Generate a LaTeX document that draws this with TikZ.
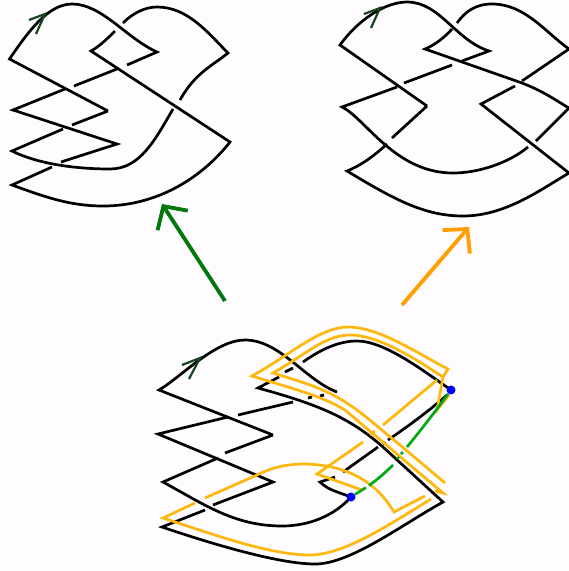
\documentclass[tikz,border=0pt]{standalone}
\usepackage{xcolor}
\usetikzlibrary{arrows.meta}
\definecolor{paper}{RGB}{254,252,254}
\definecolor{ribbon}{RGB}{255,184,10}
\definecolor{orient}{RGB}{20,70,30}
\definecolor{band}{RGB}{0,170,20}
\definecolor{movegreen}{RGB}{0,120,10}
\definecolor{moveorange}{RGB}{255,160,0}
\tikzset{
    knot/.style={draw=black, line width=2.7pt, line join=miter},
    pushoff/.style={draw=ribbon, line width=2.7pt, line join=miter},
    orientmark/.style={draw=orient, line width=2.2pt},
    arc/.style={draw=band, line width=2.7pt},
    endpt/.style={fill=blue, circle, inner sep=0pt, minimum size=9pt},
    move/.style={line width=3.8pt, -{Straight Barb[length=17pt, width=36pt]}},
}

\begin{document}
\begin{tikzpicture}[x=1pt, y=-1pt]
    \fill[paper] (0,0) rectangle (569,571);
    \useasboundingbox (0,0) rectangle (569,571);

    % top left knot
    \draw[knot] (108,111) -- (9.5,59) .. controls (28,32) and (48,4) .. (72,4) .. controls (102,4) and (126,38) .. (157,52) -- (127,65);
    \draw[knot] (117,69) -- (74,86);
    \draw[knot] (65,89) -- (13,110) -- (117,144) -- (61,162);
    \draw[knot] (52,167) -- (12,185) .. controls (45,197) and (70,206) .. (103,206) .. controls (155,206) and (200,180) .. (230,142) -- (91,51) .. controls (100,46) and (108,38) .. (115,31);
    \draw[knot] (123,23) .. controls (133,13) and (145,7) .. (157,7) .. controls (188,7) and (208,33) .. (228,53) .. controls (212,66) and (195,73) .. (180,100);
    \draw[knot] (173,109) .. controls (155,140) and (140,169) .. (110,169) .. controls (80,169) and (40,165) .. (12,151) -- (63,129);
    \draw[knot] (72,125) -- (108,111);
    \draw[orientmark] (29,20) -- (45,14) -- (36,34);

    % top right knot
    \draw[knot] (427,106) -- (340,45) .. controls (358,20) and (385,2) .. (407,2) .. controls (440,2) and (455,40) .. (489,51) -- (462,61);
    \draw[knot] (452,65) -- (404,83);
    \draw[knot] (397,87) -- (342,107) .. controls (365,118) and (395,173) .. (453,173) .. controls (480,173) and (510,162) .. (528,147);
    \draw[knot] (536,141) -- (569,108) .. controls (555,100) and (545,92) .. (522,83) -- (425,49) .. controls (435,45) and (445,37) .. (452,29);
    \draw[knot] (457,23) .. controls (465,12) and (475,4) .. (492,4) .. controls (525,4) and (545,32) .. (569,49) -- (522,81);
    \draw[knot] (515,86) -- (481,104) -- (569,173) .. controls (540,190) and (505,216) .. (463,216) .. controls (425,216) and (395,200) .. (347,171) .. controls (362,165) and (375,155) .. (387,144);
    \draw[knot] (392,138) -- (427,106);
    \draw[orientmark] (364,14) -- (380,8) -- (371,28);

    % moves between the diagrams
    \coordinate (greentail) at (225,301);
    \coordinate (greentip)  at (162,204);
    \coordinate (orangetail) at (402,305);
    \coordinate (orangetip)  at (469,227);
    \draw[move, draw=movegreen] (greentail) -- (greentip);
    \draw[move, draw=moveorange] (orangetail) -- (orangetip);

    % bottom knot
    \draw[knot] (273,435) -- (159,390) .. controls (180,378) and (215,340) .. (245,340) .. controls (280,340) and (305,380) .. (337,392);
    \draw[knot] (293,402) -- (238,415);
    \draw[knot] (228,417) -- (158,434) -- (273,482) -- (213,505);
    \draw[knot] (205,510) -- (162,527) .. controls (215,545) and (280,564) .. (315,564) .. controls (350,564) and (400,526) .. (443,502) -- (383,447) .. controls (350,418) and (320,405) .. (258,388) -- (279,377);
    \draw[knot] (285,372) -- (293,368);
    \draw[knot] (303,362) .. controls (320,350) and (338,341) .. (357,341) .. controls (385,341) and (425,372) .. (451,390);
    \draw[knot] (447,395) .. controls (430,410) and (410,425) .. (388,440);
    \draw[knot] (385.5,442.5) -- (383,444);
    \draw[knot] (378,447) -- (343,472);
    \draw[knot] (335,477) -- (320,482) .. controls (328,490) and (338,492) .. (351,497) .. controls (335,515) and (310,526) .. (282,526) .. controls (235,526) and (205,505) .. (163,482) -- (218,458);
    \draw[knot] (225,453) -- (273,435);
    \draw[knot] (308,398) -- (312,397);
    \draw[knot] (320,396) -- (324,395);
    \draw[orientmark] (182,365) -- (200,358) -- (189,379);

    % pushed off copy
    \draw[pushoff] (445,483) -- (400,445) .. controls (375,425) and (355,405) .. (327,392) .. controls (310,384) and (295,380) .. (273,373) .. controls (305,355) and (325,335) .. (350,335) .. controls (380,335) and (420,362) .. (443,377) -- (437,410) -- (449,395);
    \draw[pushoff] (443,377) -- (448,369) .. controls (420,355) and (380,327) .. (348,327) .. controls (320,327) and (290,355) .. (252,376) .. controls (290,388) and (320,395) .. (345,410) -- (443,493) -- (435,491);
    \draw[pushoff] (437,380) -- (383,425);
    \draw[pushoff] (375,431) -- (370,435);
    \draw[pushoff] (363,442) -- (317,474) -- (362,490);
    \draw[pushoff] (195,503) -- (163,518) .. controls (215,535) and (270,555) .. (310,555) .. controls (345,555) and (395,521) .. (431,499);
    \draw[pushoff] (205,498) -- (257,475) .. controls (275,466) and (290,464) .. (305,464) .. controls (345,465) and (375,480) .. (394,512) -- (425,496);

    % arc between the marked points
    \node[endpt] (markA) at (351,497) {};
    \node[endpt] (markB) at (451,390) {};
    \draw[arc] (markA) -- (366,487.5);
    \draw[arc] (369,485.5) .. controls (378,479) and (386,472) .. (393,465);
    \draw[arc] (397,459) -- (399,457);
    \draw[arc] (401,454) -- (403,452);
    \draw[arc] (407,447) .. controls (425,425) and (440,405) .. (markB);
\end{tikzpicture}
\end{document}
